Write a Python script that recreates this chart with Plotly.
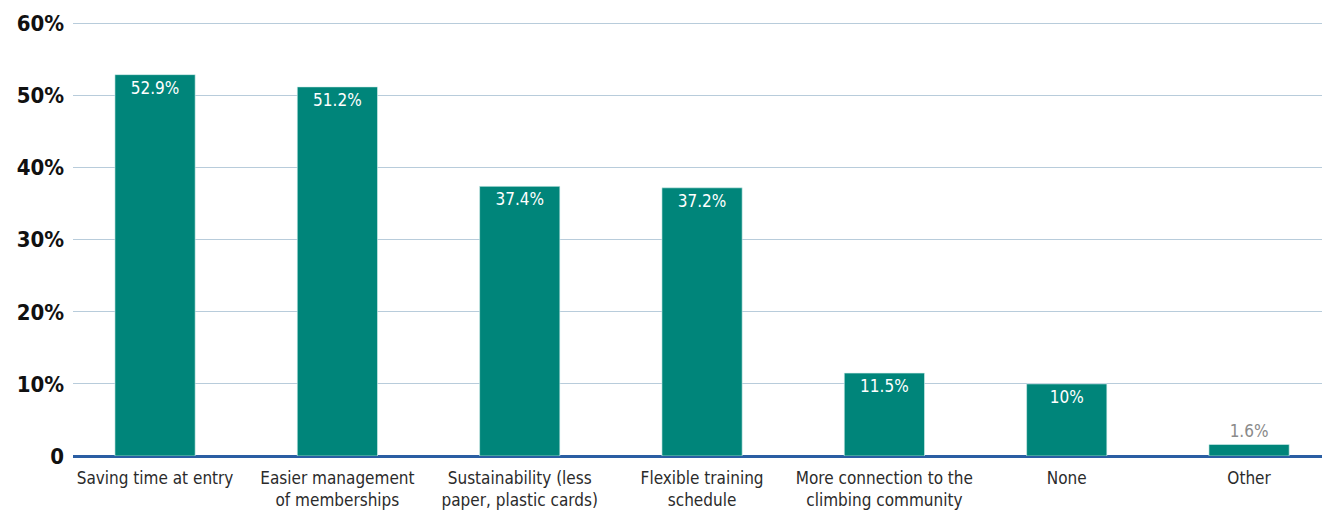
import plotly.graph_objects as go

# Survey answers and their shares (percent)
categories = [
    "Saving time at entry",
    "Easier management<br>of memberships",
    "Sustainability (less<br>paper, plastic cards)",
    "Flexible training<br>schedule",
    "More connection to the<br>climbing community",
    "None",
    "Other",
]
values = [52.9, 51.2, 37.4, 37.2, 11.5, 10, 1.6]
value_labels = ["52.9%", "51.2%", "37.4%", "37.2%", "11.5%", "10%", "1.6%"]
y_ticks = [0, 10, 20, 30, 40, 50, 60]
y_tick_labels = ["0", "10%", "20%", "30%", "40%", "50%", "60%"]

FONT = "Liberation Sans Narrow, DejaVu Sans Condensed, Roboto, sans-serif"
BAR = "#00857a"

positions = list(range(len(categories)))
text_pos = ["inside" if v > 5 else "outside" for v in values]
text_col = ["white" if v > 5 else "#8a8a8a" for v in values]

fig = go.Figure(
    go.Bar(
        x=positions,
        y=values,
        width=0.44,
        marker=dict(color=BAR, line=dict(color="#d6f0ee", width=0.6)),
        text=value_labels,
        textposition=text_pos,
        insidetextanchor="end",
        textfont=dict(family=FONT, size=17, color=text_col),
        cliponaxis=False,
        hoverinfo="skip",
    )
)

fig.update_layout(
    width=1322,
    height=513,
    margin=dict(l=73, r=0, t=22, b=57),
    paper_bgcolor="white",
    plot_bgcolor="white",
    showlegend=False,
    font=dict(family=FONT),
    xaxis=dict(
        range=[-0.45, 6.40],
        tickmode="array",
        tickvals=positions,
        ticktext=categories,
        tickfont=dict(family=FONT, size=17, color="#2b2b2b"),
        showgrid=False,
        zeroline=False,
        showline=False,
        ticks="",
        ticklabelstandoff=10,
    ),
    yaxis=dict(
        range=[0, 60.2],
        tickmode="array",
        tickvals=y_ticks,
        ticktext=["<b>%s</b>" % t for t in y_tick_labels],
        tickfont=dict(family=FONT, size=22, color="#111111"),
        showgrid=True,
        gridcolor="#b8ccdb",
        gridwidth=1,
        zeroline=True,
        zerolinecolor="#2a5ea3",
        zerolinewidth=2.5,
        ticks="",
        ticklabelstandoff=8,
    ),
)

fig.write_html("out.html")
